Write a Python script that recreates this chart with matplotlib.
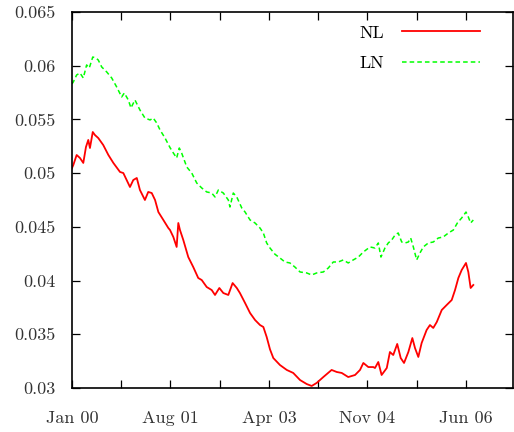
import matplotlib
matplotlib.use('Agg')
import matplotlib.pyplot as plt

# days since 1 Jan 2000
days_nl = [0, 8, 28, 48, 68, 84, 98, 108, 125, 138, 158, 188, 219, 249, 289, 309, 329, 349, 369, 390,
           409, 439, 459, 480, 500, 520, 550, 580, 590, 610, 630, 640, 650, 670, 700, 730, 760, 781, 811, 841,
           861, 887, 911, 941, 967, 992, 1011, 1042, 1072, 1102, 1132, 1152, 1172, 1192, 1212, 1252, 1293, 1332, 1373, 1413,
           1443, 1473, 1513, 1563, 1594, 1624, 1663, 1704, 1734, 1754, 1784, 1814, 1824, 1844, 1864, 1895, 1914, 1934, 1958, 1979,
           1999, 2025, 2049, 2065, 2085, 2105, 2135, 2155, 2175, 2196, 2226, 2256, 2286, 2306, 2326, 2346, 2372, 2386, 2400, 2416]
nl = [0.05048, 0.05076, 0.05169, 0.05141, 0.05095, 0.05243, 0.05309, 0.05234, 0.05383, 0.05355,
      0.05327, 0.05262, 0.05169, 0.05095, 0.05011, 0.05001, 0.04936, 0.04871, 0.04936, 0.04955,
      0.04843, 0.04750, 0.04825, 0.04815, 0.04750, 0.04638, 0.04564, 0.04489, 0.04471, 0.04406,
      0.04313, 0.04536, 0.04471, 0.04378, 0.04219, 0.04126, 0.04024, 0.04005, 0.03940, 0.03912,
      0.03866, 0.03931, 0.03884, 0.03866, 0.03977, 0.03931, 0.03884, 0.03791, 0.03698, 0.03633,
      0.03586, 0.03568, 0.03475, 0.03360, 0.03279, 0.03214, 0.03168, 0.03140, 0.03074, 0.03037,
      0.03019, 0.03047, 0.03102, 0.03168, 0.03149, 0.03140, 0.03102, 0.03121, 0.03168, 0.03233,
      0.03195, 0.03195, 0.03186, 0.03242, 0.03121, 0.03186, 0.03335, 0.03307, 0.03410, 0.03279,
      0.03233, 0.03335, 0.03465, 0.03372, 0.03289, 0.03419, 0.03540, 0.03586, 0.03559, 0.03614,
      0.03726, 0.03773, 0.03819, 0.03912, 0.04024, 0.04098, 0.04164, 0.04080, 0.03931, 0.03959]

days_ln = [0, 8, 28, 48, 68, 88, 104, 125, 144, 158, 179, 209, 239, 269, 299, 315, 339, 355, 379, 409,
           439, 470, 489, 510, 530, 560, 590, 610, 630, 646, 660, 691, 721, 751, 781, 811, 841, 861, 881, 911,
           941, 951, 971, 992, 1022, 1042, 1072, 1102, 1132, 1152, 1172, 1192, 1222, 1252, 1282, 1312, 1342, 1373, 1413, 1443,
           1473, 1513, 1543, 1573, 1603, 1633, 1663, 1693, 1724, 1754, 1794, 1824, 1844, 1860, 1884, 1904, 1925, 1945, 1964, 1985,
           2005, 2025, 2039, 2055, 2075, 2095, 2115, 2145, 2175, 2205, 2235, 2266, 2296, 2320, 2346, 2372, 2386, 2400, 2416]
ln = [0.05830, 0.05849, 0.05914, 0.05932, 0.05886, 0.06007, 0.05979, 0.06081, 0.06072, 0.06053,
      0.05988, 0.05942, 0.05886, 0.05802, 0.05709, 0.05746, 0.05681, 0.05607, 0.05681, 0.05588,
      0.05513, 0.05495, 0.05513, 0.05467, 0.05402, 0.05327, 0.05238, 0.05188, 0.05141, 0.05234,
      0.05188, 0.05057, 0.05001, 0.04908, 0.04862, 0.04825, 0.04815, 0.04778, 0.04843, 0.04815,
      0.04750, 0.04685, 0.04815, 0.04778, 0.04676, 0.04638, 0.04564, 0.04536, 0.04489, 0.04443,
      0.04350, 0.04303, 0.04245, 0.04210, 0.04173, 0.04164, 0.04126, 0.04080, 0.04071, 0.04052,
      0.04071, 0.04080, 0.04117, 0.04173, 0.04173, 0.04192, 0.04164, 0.04192, 0.04219, 0.04266,
      0.04313, 0.04303, 0.04350, 0.04219, 0.04303, 0.04350, 0.04378, 0.04424, 0.04443, 0.04359,
      0.04350, 0.04359, 0.04396, 0.04313, 0.04192, 0.04257, 0.04313, 0.04350, 0.04359, 0.04396,
      0.04406, 0.04443, 0.04471, 0.04536, 0.04583, 0.04638, 0.04592, 0.04536, 0.04564]

tick_step = 296.5  # days between ticks, every other one labelled
xtick_labels = ['Jan 00', 'Aug 01', 'Apr 03', 'Nov 04', 'Jun 06']
yticks = [0.03, 0.035, 0.04, 0.045, 0.05, 0.055, 0.06, 0.065]
ytick_labels = ['0.03', '0.035', '0.04', '0.045', '0.05', '0.055', '0.06', '0.065']

plt.rcParams['font.family'] = ['cmr10', 'DejaVu Serif']

fig = plt.figure(figsize=(5.14, 4.32), dpi=100)
ax = fig.add_axes([72 / 514, 44 / 432, 441 / 514, 376 / 432])

ax.plot(days_nl, nl, color='#ff0000', lw=1.3, label='NL')
ax.plot(days_ln, ln, color='#00ff00', lw=1.1, ls=(0, (3, 2)), label='LN')

ax.set_xlim(0, 2655)
ax.set_ylim(0.03, 0.065)
ax.set_xticks([2 * i * tick_step for i in range(len(xtick_labels))])
ax.set_xticklabels(xtick_labels)
ax.set_xticks([(2 * i + 1) * tick_step for i in range(4)], minor=True)
ax.set_yticks(yticks)
ax.set_yticklabels(ytick_labels)

ax.tick_params(which='both', direction='in', top=True, right=True, length=6, width=0.9,
               labelsize=13, labelcolor='#333333')
ax.tick_params(axis='x', pad=16)
ax.tick_params(axis='y', pad=12)
for s in ax.spines.values():
    s.set_linewidth(1.2)

ax.legend(loc='upper right', bbox_to_anchor=(0.925, 0.965), frameon=False, markerfirst=False,
          handlelength=4.3, handletextpad=1.0, labelspacing=0.8, borderpad=0, borderaxespad=0,
          fontsize=13)

fig.savefig('out.png', dpi=100)
